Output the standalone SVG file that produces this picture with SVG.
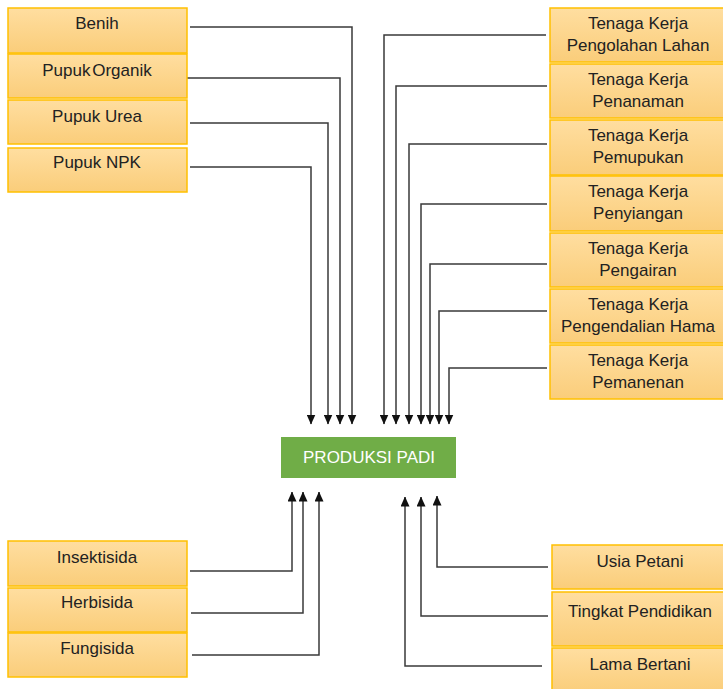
<svg xmlns="http://www.w3.org/2000/svg" width="723" height="689" viewBox="0 0 723 689">
<defs>
<linearGradient id="g" x1="0" y1="0" x2="0" y2="1">
<stop offset="0" stop-color="#FFDEA0"/>
<stop offset="1" stop-color="#FACD7A"/>
</linearGradient>
<marker id="arr" markerUnits="userSpaceOnUse" markerWidth="10" markerHeight="9" refX="9.5" refY="4.5" orient="auto" viewBox="0 0 10 9">
<path d="M0,0 L10,4.5 L0,9 z" fill="#111"/>
</marker>
</defs>
<style>
.box{fill:url(#g);stroke:#FFC000;stroke-width:1.5}
.t{font-family:"Liberation Sans",Arial,sans-serif;font-size:17px;fill:#222;text-anchor:middle}
.c{fill:none;stroke:#3a3a3a;stroke-width:1.5;marker-end:url(#arr)}
</style>
<g id="connectors">
<path class="c" d="M190,27 H352 V424"/>
<path class="c" d="M186,78 H340 V424"/>
<path class="c" d="M190,123 H328 V424"/>
<path class="c" d="M190,167 H311 V424"/>
<path class="c" d="M546,35 H384 V424"/>
<path class="c" d="M547,86 H396 V424"/>
<path class="c" d="M547,144 H409 V424"/>
<path class="c" d="M547,204 H421 V424"/>
<path class="c" d="M547,264 H430 V424"/>
<path class="c" d="M547,311 H439 V424"/>
<path class="c" d="M547,368 H449 V424"/>
<path class="c" d="M190,571 H292 V492"/>
<path class="c" d="M191,613 H303 V492"/>
<path class="c" d="M192,655 H319 V492"/>
<path class="c" d="M548,567 H437 V496"/>
<path class="c" d="M548,616 H421 V497"/>
<path class="c" d="M542,666 H405 V497"/>
</g>
<g id="benih"><rect class="box" x="8" y="8" width="179" height="45"/><text class="t" x="97" y="29">Benih</text></g>
<g id="pupuk-organik"><rect class="box" x="8" y="54" width="179" height="44"/><text class="t" x="97" y="76" word-spacing="-3">Pupuk Organik</text></g>
<g id="pupuk-urea"><rect class="box" x="8" y="100" width="179" height="44"/><text class="t" x="97" y="122">Pupuk Urea</text></g>
<g id="pupuk-npk"><rect class="box" x="8" y="148" width="179" height="44"/><text class="t" x="97" y="168">Pupuk NPK</text></g>
<g id="tk-pengolahan"><rect class="box" x="550" y="8" width="175" height="54"/><text class="t" x="638" y="29">Tenaga Kerja</text><text class="t" x="638" y="51">Pengolahan Lahan</text></g>
<g id="tk-penanaman"><rect class="box" x="550" y="64" width="175" height="54"/><text class="t" x="638" y="85">Tenaga Kerja</text><text class="t" x="638" y="107">Penanaman</text></g>
<g id="tk-pemupukan"><rect class="box" x="550" y="120" width="175" height="55"/><text class="t" x="638" y="141">Tenaga Kerja</text><text class="t" x="638" y="163">Pemupukan</text></g>
<g id="tk-penyiangan"><rect class="box" x="550" y="176" width="175" height="55"/><text class="t" x="638" y="197">Tenaga Kerja</text><text class="t" x="638" y="219">Penyiangan</text></g>
<g id="tk-pengairan"><rect class="box" x="550" y="233" width="175" height="54"/><text class="t" x="638" y="254">Tenaga Kerja</text><text class="t" x="638" y="276">Pengairan</text></g>
<g id="tk-pengendalian"><rect class="box" x="550" y="289" width="175" height="54"/><text class="t" x="638" y="310">Tenaga Kerja</text><text class="t" x="638" y="332">Pengendalian Hama</text></g>
<g id="tk-pemanenan"><rect class="box" x="550" y="345" width="175" height="54"/><text class="t" x="638" y="366">Tenaga Kerja</text><text class="t" x="638" y="388">Pemanenan</text></g>
<g id="produksi-padi"><rect x="281" y="437" width="175" height="41" fill="#70AD47"/><text x="369" y="463" font-family="Liberation Sans, Arial, sans-serif" font-size="17" fill="#fff" text-anchor="middle">PRODUKSI PADI</text></g>
<g id="insektisida"><rect class="box" x="8" y="541" width="179" height="45"/><text class="t" x="97" y="563">Insektisida</text></g>
<g id="herbisida"><rect class="box" x="8" y="588" width="179" height="44"/><text class="t" x="97" y="608">Herbisida</text></g>
<g id="fungisida"><rect class="box" x="8" y="633" width="179" height="44"/><text class="t" x="97" y="654">Fungisida</text></g>
<g id="usia-petani"><rect class="box" x="552" y="545" width="173" height="44"/><text class="t" x="640" y="567">Usia Petani</text></g>
<g id="tingkat-pendidikan"><rect class="box" x="552" y="592" width="173" height="54"/><text class="t" x="640" y="617">Tingkat Pendidikan</text></g>
<g id="lama-bertani"><rect class="box" x="552" y="648" width="173" height="45"/><text class="t" x="640" y="670">Lama Bertani</text></g>
</svg>
